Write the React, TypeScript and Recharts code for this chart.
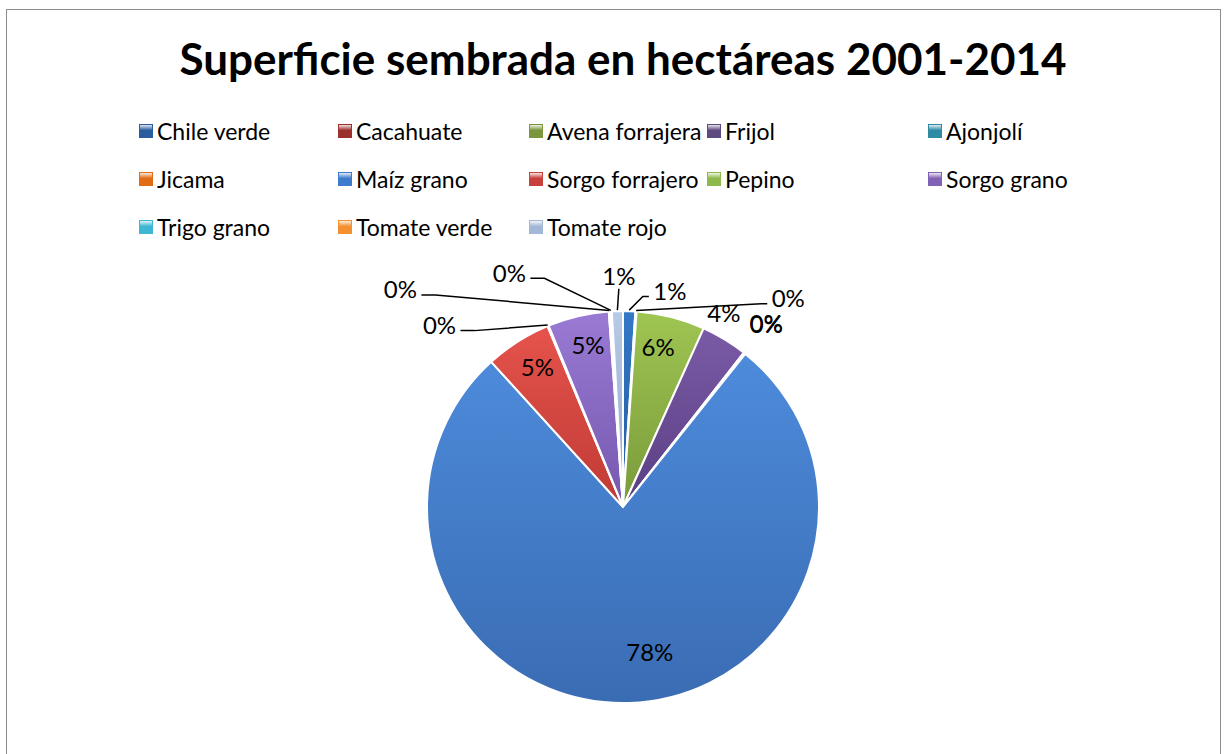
import React from 'react';
import { PieChart, Pie, Cell } from 'recharts';

// superficie sembrada 2001-2014, participación aproximada (%)
const crops = [
  'Chile verde', 'Cacahuate', 'Avena forrajera', 'Frijol', 'Ajonjolí',
  'Jicama', 'Maíz grano', 'Sorgo forrajero', 'Pepino', 'Sorgo grano',
  'Trigo grano', 'Tomate verde', 'Tomate rojo',
];
const shares = [1.0, 0.1, 5.6, 3.8, 0.05, 0.1, 77.0, 5.4, 0.1, 5.0, 0.1, 0.15, 0.9];

// slice colours (top, bottom of the gradient) and legend swatches
const sliceTop = [
  '#3478c6', '#b8423e', '#9fc552', '#7a5aa6', '#3aa6c2', '#e8812e', '#4d8bdb',
  '#e5534c', '#a6cb5c', '#9a7ad4', '#4cc0dc', '#f8a24a', '#b7cae6',
];
const sliceBottom = [
  '#265a9c', '#8f2f2c', '#7a9a3a', '#5a3f82', '#2a7f96', '#c2631a', '#3a6cb3',
  '#c03a35', '#84a83e', '#7558ae', '#34a0bb', '#e0842c', '#8fa8cc',
];
const swatch = [
  '#2a5d9c', '#9c302d', '#7a963e', '#5f4a80', '#2f8aa3', '#e06c14', '#3d7ccc',
  '#c8403c', '#8fb84c', '#8262b4', '#3fb6d3', '#f4902f', '#a3b8d6',
];

// label layout: radius factor, angle shift (deg) and leader side
const labelPlace = [
  { k: 1.13, da: 10.4, side: 'left' },
  { k: 1.36, da: 34.5, side: 'left' },
  { k: 0.84, da: -1.8, side: '' },
  { k: 1.12, da: -3.8, side: '' },
  { k: 1.19, da: -0.3, side: '' },
  { k: 1.19, da: -0.5, side: '' },
  { k: 0.75, da: -8.7, side: '' },
  { k: 0.84, da: 1.1, side: '' },
  { k: 1.32, da: -22.7, side: 'right' },
  { k: 0.85, da: 1.1, side: '' },
  { k: 1.59, da: -41.6, side: 'right' },
  { k: 1.33, da: -22.3, side: 'right' },
  { k: 1.18, da: 0.6, side: 'bottom' },
];

const data = crops.map((name, i) => ({ name, value: shares[i] }));

const FONT = 'Lato, "Open Sans", sans-serif';
const RAD = Math.PI / 180;

const renderLabel = (p: any) => {
  const { cx, cy, midAngle, outerRadius, index, percent } = p;
  const pl = labelPlace[index];
  const mid = 90 - midAngle;
  const th = (mid + pl.da) * RAD;
  const x = cx + outerRadius * pl.k * Math.sin(th);
  const y = cy - outerRadius * pl.k * Math.cos(th);
  const txt = `${Math.round(percent * 100)}%`;
  let line = null;
  if (pl.side) {
    const sx = cx + (outerRadius + 1) * Math.sin(mid * RAD);
    const sy = cy - (outerRadius + 1) * Math.cos(mid * RAD);
    let pts = '';
    if (pl.side === 'bottom') {
      pts = `${x},${y + 13} ${sx},${sy}`;
    } else {
      const ex = pl.side === 'right' ? x + 21 : x - 21;
      const elbow = pl.side === 'right' ? ex + 14 : ex - 6;
      pts = `${ex},${y + 6} ${elbow},${y + 6} ${sx},${sy}`;
    }
    line = <polyline points={pts} fill="none" stroke="#000" strokeWidth={1.5} />;
  }
  return (
    <g>
      {line}
      <text x={x} y={y} textAnchor="middle" dominantBaseline="central"
        fontFamily={FONT} fontSize={24} fill="#000">{txt}</text>
    </g>
  );
};

const legendCols = [199, 191, 178, 221, 200];

const ChartLegend = () => (
  <div style={{
    position: 'absolute', left: 139, top: 107, display: 'grid',
    gridTemplateColumns: legendCols.map((c) => `${c}px`).join(' '),
  }}>
    {crops.map((name, i) => (
      <div key={name} style={{ display: 'flex', alignItems: 'center', height: 48, fontFamily: FONT, fontSize: 23, color: '#000', whiteSpace: 'nowrap' }}>
        <span style={{
          display: 'inline-block', width: 14, height: 14, marginRight: 4,
          background: `linear-gradient(180deg, #ffffffaa 0%, ${swatch[i]} 45%, ${swatch[i]} 100%)`,
          boxShadow: `inset 0 0 0 1px ${swatch[i]}`,
        }} />
        {name}
      </div>
    ))}
  </div>
);

export default function App() {
  return (
    <div style={{ position: 'fixed', left: 0, top: 0, width: 1227, height: 754, overflow: 'hidden', background: '#fff' }}>
      <div style={{ position: 'absolute', left: 6, top: 9, width: 1215, height: 800, border: '1.5px solid #8c8c8c', boxSizing: 'border-box' }} />
      <div style={{ position: 'absolute', left: 0, top: 32, width: 1246, textAlign: 'center', fontFamily: FONT, fontWeight: 700, fontSize: 44, color: '#000' }}>
        Superficie sembrada en hectáreas 2001-2014
      </div>
      <ChartLegend />
      <div style={{ position: 'absolute', left: 0, top: 0 }}>
        <PieChart width={1227} height={754} margin={{ top: 0, right: 0, bottom: 0, left: 0 }}>
          <defs>
            {sliceTop.map((c, i) => (
              <linearGradient key={i} id={`g${i}`} x1="0" y1="0" x2="0" y2="1">
                <stop offset="0%" stopColor={c} />
                <stop offset="100%" stopColor={sliceBottom[i]} />
              </linearGradient>
            ))}
          </defs>
          <Pie data={data} dataKey="value" nameKey="name" cx={623} cy={507}
            outerRadius={196} startAngle={90} endAngle={-270}
            stroke="#ffffff" strokeWidth={2} label={renderLabel} labelLine={false}
            isAnimationActive={false}>
            {data.map((d, i) => (
              <Cell key={d.name} fill={`url(#g${i})`} />
            ))}
          </Pie>
        </PieChart>
      </div>
    </div>
  );
}
